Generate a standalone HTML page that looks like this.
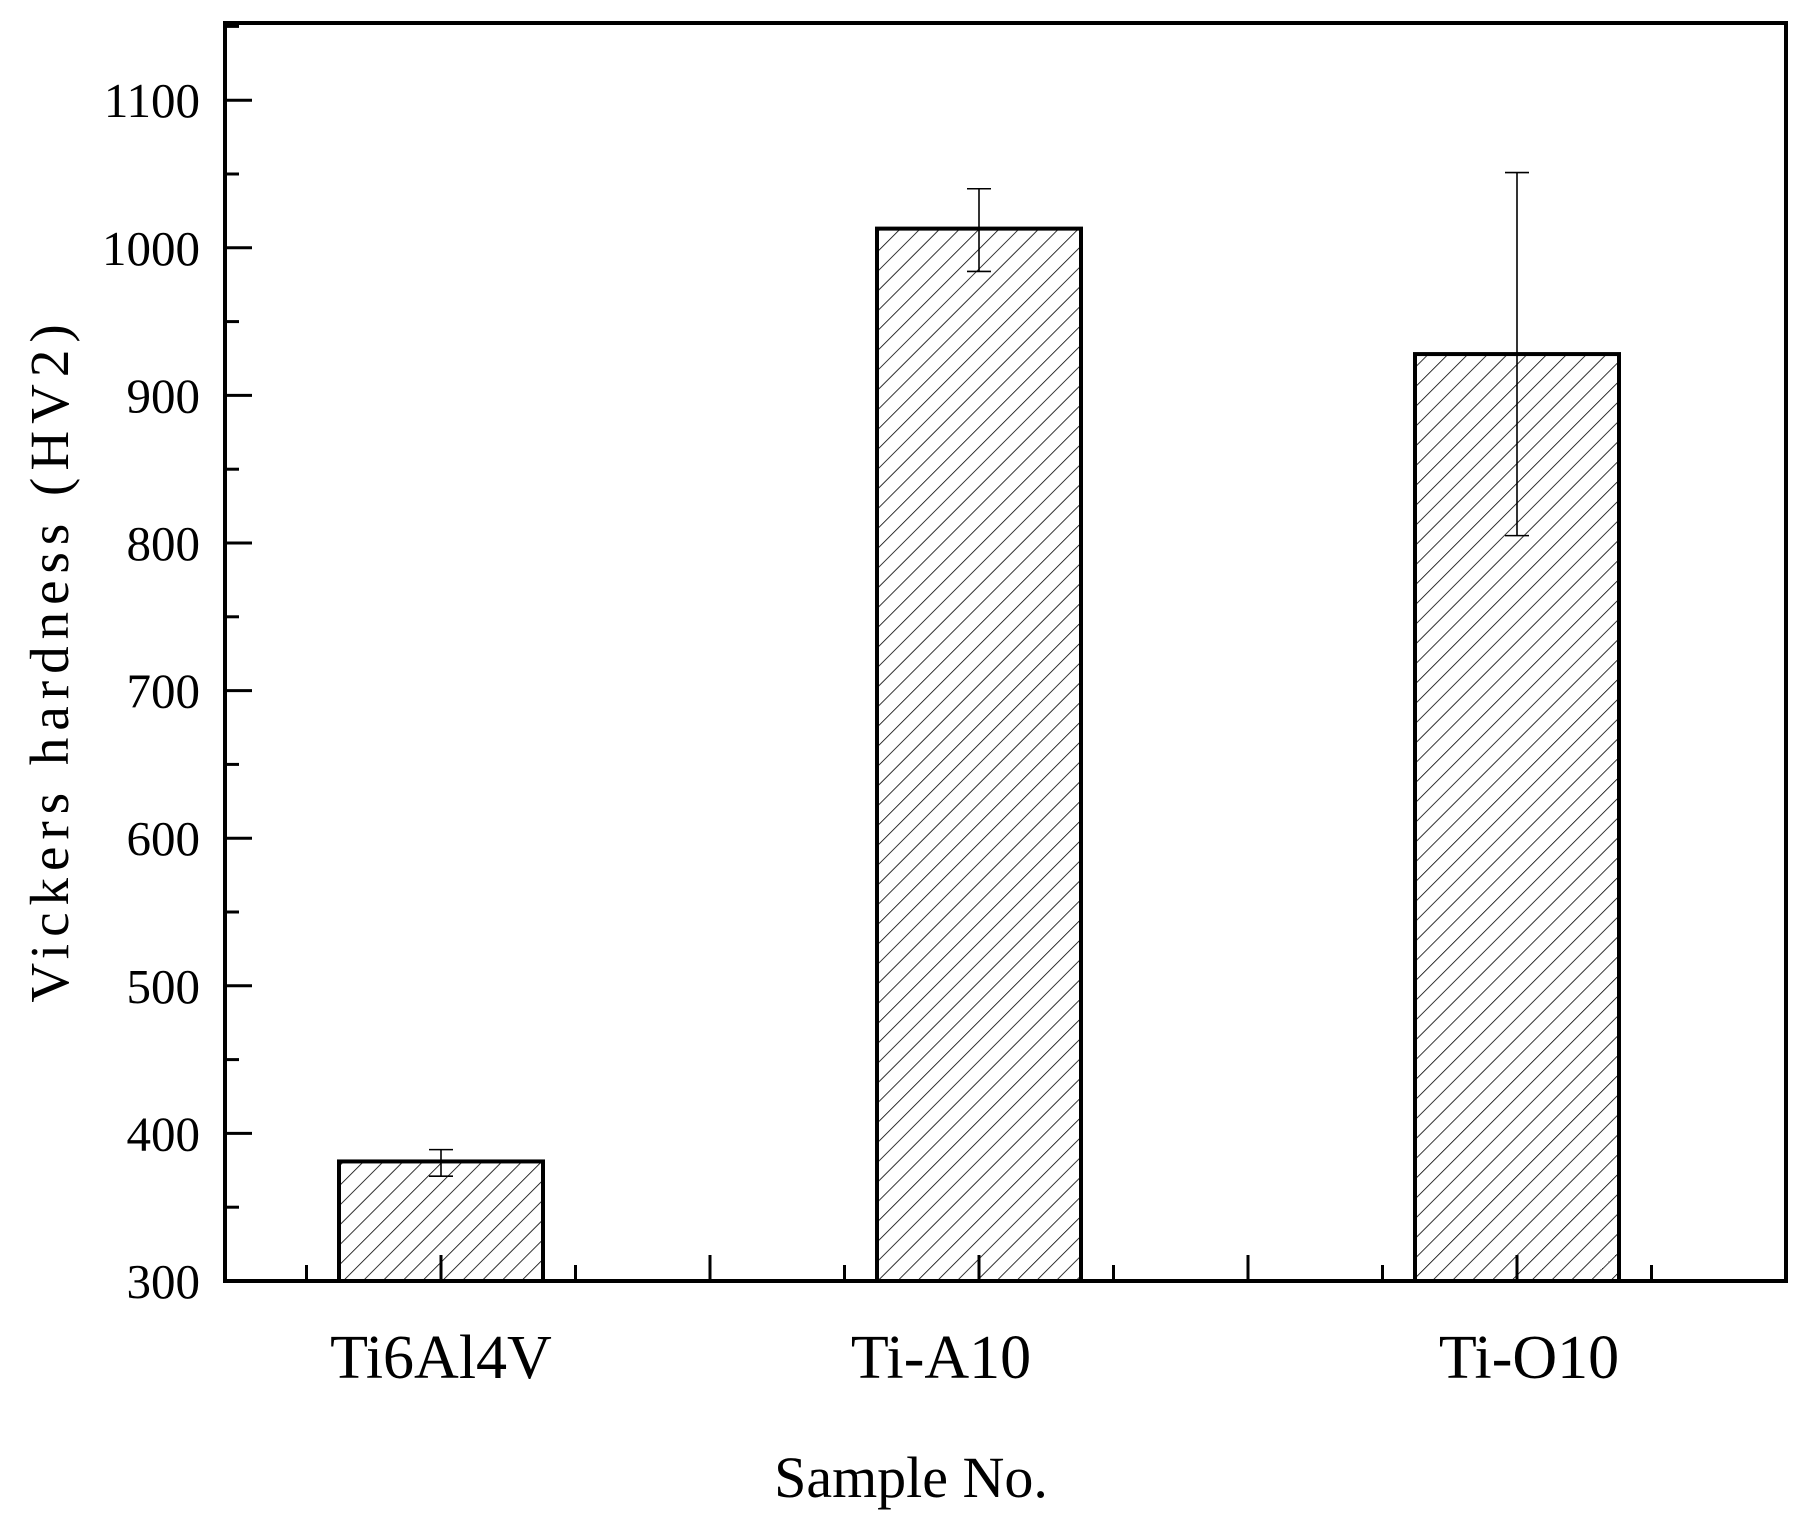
<!DOCTYPE html>
<html><head><meta charset="utf-8"><style>
html,body{margin:0;padding:0;background:#fff;}
svg{display:block;}
text{font-family:"Liberation Serif",serif;fill:#000;}
</style></head><body>
<svg id="chart" width="1809" height="1518" viewBox="0 0 1809 1518">
<defs>
<pattern id="hatch" patternUnits="userSpaceOnUse" width="14" height="14" patternTransform="rotate(45)">
<line x1="0" y1="0" x2="0" y2="14" stroke="#000" stroke-width="1.6"/>
</pattern>
</defs>
<g id="plot"></g>
</svg>
<script>
const categories=["Ti6Al4V","Ti-A10","Ti-O10"];
const values=[381,1013,928];
const errLow=[371,984,805];
const errHigh=[389,1040,1051];
const yTicks=[300,400,500,600,700,800,900,1000,1100];

const L=225,R=1786,T=23,B=1281;
const yMin=300,yMax=300+(B-T)/147.6*100;
function y(v){return B-(v-yMin)/(yMax-yMin)*(B-T);}
const step=538, x0=441;
function x(i){return x0+i*step;}
const labelShift=[0,-38,12];
const bw=204;
const NS="http://www.w3.org/2000/svg";
const g=document.getElementById('plot');
function mk(tag,attrs,parent){const e=document.createElementNS(NS,tag);for(const k in attrs)e.setAttribute(k,attrs[k]);(parent||g).appendChild(e);return e;}

categories.forEach((c,i)=>{
  const r=mk('rect',{x:x(i)-bw/2,y:y(values[i]),width:bw,height:B-y(values[i]),fill:'url(#hatch)',stroke:'#000','stroke-width':4});
  
  
  const eg=mk('g',{stroke:'#000','stroke-width':1.6});
  
  
  mk('line',{x1:x(i),x2:x(i),y1:y(errLow[i]),y2:y(errHigh[i])},eg);
  mk('line',{x1:x(i)-12,x2:x(i)+12,y1:y(errLow[i]),y2:y(errLow[i])},eg);
  mk('line',{x1:x(i)-12,x2:x(i)+12,y1:y(errHigh[i]),y2:y(errHigh[i])},eg);
  const t=mk('text',{x:x(i)+labelShift[i],y:1378,'text-anchor':'middle','font-size':62});
  t.textContent=c;
  
  
});

const fr=mk('rect',{x:L,y:T,width:R-L,height:B-T,fill:'none',stroke:'#000','stroke-width':4});



yTicks.forEach((v,k)=>{
  mk('line',{x1:L,x2:L+27,y1:y(v),y2:y(v),stroke:'#000','stroke-width':3});
  if(k<yTicks.length-1){const m=(v+yTicks[k+1])/2;mk('line',{x1:L,x2:L+14,y1:y(m),y2:y(m),stroke:'#000','stroke-width':3});}
  const t=mk('text',{x:200,y:y(v)+17,'text-anchor':'end','font-size':49});
  t.textContent=v;
  
  
});
{const v=1150;mk('line',{x1:L,x2:L+14,y1:y(v),y2:y(v),stroke:'#000','stroke-width':3});}

for(let k=-2;k<=12;k++){
  const xx=x0+k*step/4;
  if(xx<=L+5||xx>=R-5)continue;
  const len=(k%2===0)?26:16;
  mk('line',{x1:xx,x2:xx,y1:B,y2:B-len,stroke:'#000','stroke-width':3});
}

const yt=mk('text',{x:0,y:0,'text-anchor':'middle','font-size':55,'letter-spacing':'7',transform:'translate(68,660) rotate(-90)'});
yt.textContent='Vickers  hardness (HV2)';


const xt=mk('text',{x:911,y:1497,'text-anchor':'middle','font-size':58});
xt.textContent='Sample No.';


</script>
</body></html>
